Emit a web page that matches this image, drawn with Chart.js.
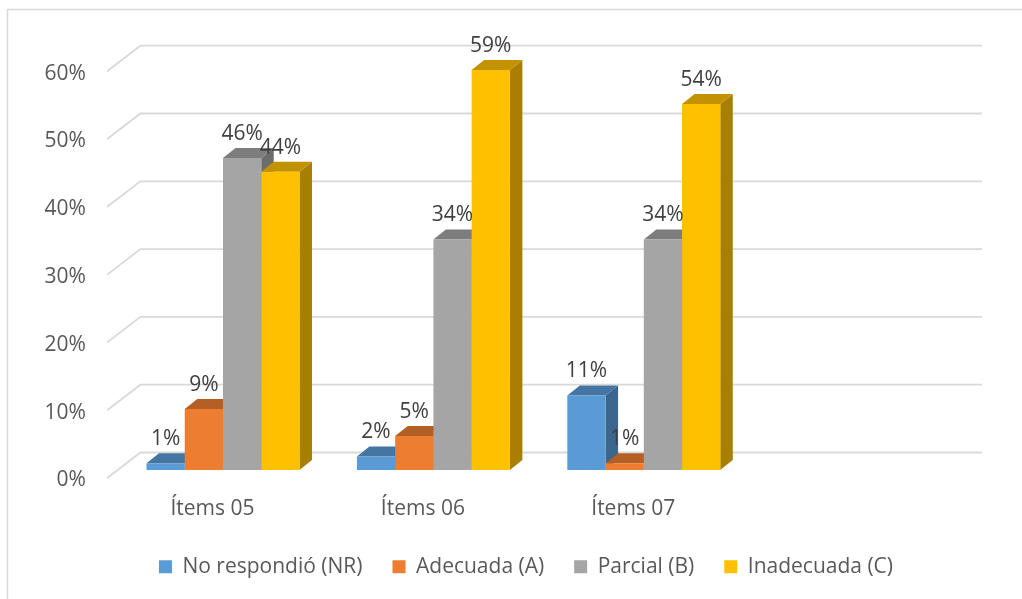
<!DOCTYPE html>
<html>
<head>
<meta charset="utf-8">
<script src="https://cdn.jsdelivr.net/npm/chart.js@4.4.0/dist/chart.umd.min.js"></script>
<style>
  html, body { margin: 0; padding: 0; background: #fff; }
  #wrap { width: 1022px; height: 599px; }
</style>
</head>
<body>
<div id="wrap"><canvas id="itemsChart" width="1022" height="599"></canvas></div>
<script>
// values (percent)
const categories = ['Ítems 05', 'Ítems 06', 'Ítems 07', ''];
const seriesNames = ['No respondió (NR)', 'Adecuada (A)', 'Parcial (B)', 'Inadecuada (C)'];
const noRespondio = [1, 2, 11, null];
const adecuada = [9, 5, 1, null];
const parcial = [46, 34, 34, null];
const inadecuada = [44, 59, 54, null];
const yTicks = [0, 10, 20, 30, 40, 50, 60];

const frontColors = ['#5B9BD5', '#ED7D31', '#A5A5A5', '#FFC000'];

// 3D look
const depthX = 12.5, depthY = -10;      // bar depth
const wallX = 22.6, wallY = -17.5;      // back wall offset from bar plane
const floorX = -10.6, floorY = 8;       // front edge offset from bar plane

function shade(hex, f) {
  const n = parseInt(hex.slice(1), 16);
  const r = Math.round(((n >> 16) & 255) * f);
  const g = Math.round(((n >> 8) & 255) * f);
  const b = Math.round((n & 255) * f);
  return `rgb(${r},${g},${b})`;
}

function poly(ctx, pts, color) {
  ctx.beginPath();
  ctx.moveTo(pts[0][0], pts[0][1]);
  for (let i = 1; i < pts.length; i++) ctx.lineTo(pts[i][0], pts[i][1]);
  ctx.closePath();
  ctx.fillStyle = color;
  ctx.fill();
}

const frame3d = {
  id: 'frame3d',
  beforeDraw(chart) {
    const ctx = chart.ctx;
    ctx.save();
    ctx.strokeStyle = '#d9d9d9';
    ctx.lineWidth = 1.5;
    ctx.strokeRect(7.5, 9.5, 1200, 800);
    ctx.restore();
  },
  beforeDatasetsDraw(chart) {
    const ctx = chart.ctx;
    const area = chart.chartArea;
    const y = chart.scales.y;
    ctx.save();
    ctx.strokeStyle = '#d9d9d9';
    ctx.lineWidth = 1.8;
    yTicks.forEach(v => {
      const py = y.getPixelForValue(v);
      ctx.beginPath();
      ctx.moveTo(area.left + floorX, py + floorY);
      ctx.lineTo(area.left + wallX, py + wallY);
      ctx.lineTo(area.right + wallX, py + wallY);
      ctx.stroke();
    });
    // side and top faces, left to right so later fronts cover them
    for (let i = 0; i < categories.length; i++) {
      for (let d = 0; d < chart.data.datasets.length; d++) {
        const el = chart.getDatasetMeta(d).data[i];
        if (!el || chart.data.datasets[d].data[i] == null) continue;
        const L = el.x - el.width / 2, R = el.x + el.width / 2;
        const top = el.y, base = el.base;
        const c = frontColors[d];
        poly(ctx, [[R, top], [R + depthX, top + depthY], [R + depthX, base + depthY], [R, base]], shade(c, 0.66));
        poly(ctx, [[L, top], [L + depthX, top + depthY], [R + depthX, top + depthY], [R, top]], shade(c, 0.76));
      }
    }
    ctx.restore();
  },
  afterDatasetsDraw(chart) {
    const ctx = chart.ctx;
    ctx.save();
    ctx.font = '21px "Open Sans"';
    ctx.fillStyle = '#404040';
    ctx.textAlign = 'center';
    ctx.textBaseline = 'middle';
    chart.data.datasets.forEach((ds, d) => {
      chart.getDatasetMeta(d).data.forEach((el, i) => {
        if (ds.data[i] == null) return;
        ctx.fillText(ds.data[i] + '%', el.x, el.y - 24);
      });
    });
    ctx.restore();
  }
};

const seriesValues = [noRespondio, adecuada, parcial, inadecuada];

new Chart(document.getElementById('itemsChart'), {
  type: 'bar',
  data: {
    labels: categories,
    datasets: seriesNames.map((name, d) => ({
      label: name,
      data: seriesValues[d],
      backgroundColor: frontColors[d],
      borderWidth: 0,
      categoryPercentage: 0.727,
      barPercentage: 1
    }))
  },
  options: {
    responsive: false,
    animation: false,
    layout: { padding: { left: 30, right: 0, top: 63.2, bottom: 11.8 } },
    plugins: {
      tooltip: { enabled: false },
      legend: {
        position: 'bottom',
        labels: {
          boxWidth: 13,
          boxHeight: 13,
          padding: 30,
          color: '#595959',
          font: { family: 'Open Sans', size: 21 }
        }
      }
    },
    scales: {
      x: {
        grid: { display: false, drawTicks: false },
        border: { display: false },
        ticks: {
          color: '#595959',
          font: { family: 'Open Sans', size: 21 },
          labelOffset: -10.5,
          padding: 26,
          maxRotation: 0
        },
        afterFit(scale) { scale.height = 56.2; }
      },
      y: {
        min: 0,
        max: 60,
        grid: { display: false, drawTicks: false },
        border: { display: false },
        ticks: {
          stepSize: 10,
          color: '#595959',
          font: { family: 'Open Sans', size: 21 },
          padding: 32,
          labelOffset: 10.5,
          callback: v => v + '%'
        },
        afterFit(scale) { scale.width = 117.8 - 30; }
      },
      // empty right-hand spacer so the plot ends where the reference's does
      yRight: {
        position: 'right',
        grid: { display: false, drawTicks: false },
        border: { display: false },
        ticks: { display: false },
        afterFit(scale) { scale.width = 62.6; }
      }
    }
  },
  plugins: [frame3d]
});
</script>
</body>
</html>
